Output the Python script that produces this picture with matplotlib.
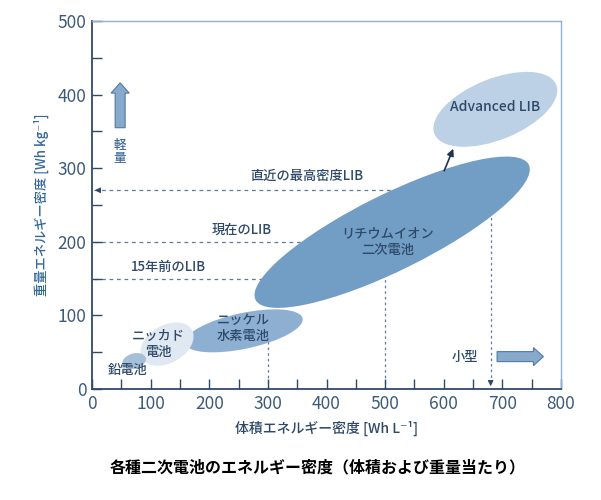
import numpy as np
import matplotlib
matplotlib.use('Agg')
import matplotlib.pyplot as plt
from matplotlib.patches import Ellipse
from matplotlib.transforms import Affine2D

plt.rcParams['font.family'] = ['Noto Sans CJK JP', 'DejaVu Sans']

# 電池ごとの領域 (中心 x [Wh/L], 中心 y [Wh/kg], 幅, 高さ, 角度)
names = ['リチウムイオン\n二次電池', 'ニッケル\n水素電池', 'ニッカド\n電池', '鉛電池', 'Advanced LIB']
cx = [512, 259, 128, 72, 688]
cy = [213, 79, 61, 38, 380]
ew = [520, 205, 98, 41, 224]
eh = [130, 61, 64, 26, 104]
ang = [26.3, 12, 30, 15, 22]
fills = ['#729ec6', '#8db0d2', '#e0e8f1', '#a5bfd9', '#bcd1e5']

# ラベル位置
lab_x = [504, 258, 113, 60, 688]
lab_y = [200, 83, 61, 26, 383]

# 基準線
h_lines_y = [270, 200, 150]
h_lines_x1 = [540, 380, 300]
h_texts = ['直近の最高密度LIB', '現在のLIB', '15年前のLIB']
h_text_x = [367, 256, 131]
h_text_y = [289, 216, 166]
v_lines_x = [300, 500]
v_lines_y1 = [80, 200]

navy = '#2f4a68'
txt = '#2d4868'

fig = plt.figure(figsize=(6.01, 5.0), dpi=100)
ax = fig.add_axes([92/601, 1-389/500, 469/601, 368/500])
ax.set_xlim(0, 800)
ax.set_ylim(0, 500)

# 画面上の角度を保つための補正
r = (ax.bbox.height/500) / (ax.bbox.width/800)
tr = Affine2D().scale(1, 1/r) + ax.transData

# 破線
for y, x1 in zip(h_lines_y, h_lines_x1):
    ax.plot([4, x1], [y, y], ls=(0, (3, 3)), color='#5d7b9c', lw=0.9, zorder=1)
for x, y1 in zip(v_lines_x, v_lines_y1):
    ax.plot([x, x], [0, y1], ls=(0, (2, 2.5)), color='#5d7b9c', lw=0.9, zorder=1)
ax.plot([680, 680], [8, 260], ls=(0, (2, 2.5)), color='#5d7b9c', lw=0.9, zorder=1)
ax.annotate('', xy=(0, 270), xytext=(14, 270),
            arrowprops=dict(arrowstyle='-|>', color=navy, lw=0.8, mutation_scale=8), zorder=2)
ax.annotate('', xy=(680, 0), xytext=(680, 12),
            arrowprops=dict(arrowstyle='-|>', color=navy, lw=0.8, mutation_scale=8), zorder=2)

for i in range(len(names)):
    e = Ellipse((cx[i], cy[i]*r), ew[i], eh[i], angle=ang[i], transform=tr,
                facecolor=fills[i], edgecolor='none', zorder=3)
    ax.add_patch(e)

for i in range(len(names)):
    fs = 10 if names[i] == 'Advanced LIB' else 9.5
    ax.text(lab_x[i], lab_y[i], names[i], ha='center', va='center', fontsize=fs,
            color=txt, linespacing=1.25, fontweight='medium', zorder=5)

for t, x, y in zip(h_texts, h_text_x, h_text_y):
    ax.text(x, y, t, ha='center', va='center', fontsize=9.5, color=txt,
            fontweight='medium', zorder=5)

# リチウムイオン -> Advanced
ax.annotate('', xy=(618, 330), xytext=(599, 293),
            arrowprops=dict(arrowstyle='-|>', color='#1e3550', lw=1.2, mutation_scale=10), zorder=6)

# 大きな矢印
ax.arrow(48, 355, 0, 61, width=17, head_width=31, head_length=14,
         length_includes_head=True, facecolor='#86a9cc', edgecolor='#55799f', lw=0.8, zorder=4)
ax.text(48, 322, '軽\n量', ha='center', va='center', fontsize=9, color='#3d6a98',
        linespacing=1.0, fontweight='medium', zorder=5)
ax.arrow(691, 44, 79, 0, width=13.6, head_width=24.5, head_length=17,
         length_includes_head=True, facecolor='#86a9cc', edgecolor='#55799f', lw=0.8, zorder=4)
ax.text(636, 44, '小型', ha='center', va='center', fontsize=9.5, color=txt,
        fontweight='medium', zorder=5)

# 軸
ax.set_xticks(np.arange(0, 801, 100))
ax.set_yticks(np.arange(0, 501, 100))
ax.set_xticks(np.arange(50, 801, 100), minor=True)
ax.set_yticks(np.arange(50, 501, 100), minor=True)
ax.tick_params(which='both', direction='in', length=7, width=1.0, color=navy,
               labelsize=12.5, labelcolor='#3d5a7a')
ax.tick_params(axis='x', which='major', pad=4)
ax.tick_params(axis='y', which='major', pad=4)
for s in ['left', 'bottom']:
    ax.spines[s].set_color(navy)
    ax.spines[s].set_linewidth(1.3)
for s in ['top', 'right']:
    ax.spines[s].set_color('#8fb1d1')
    ax.spines[s].set_linewidth(1.0)

ax.set_xlabel('体積エネルギー密度 [Wh L⁻¹]', fontsize=10, color=txt, labelpad=6,
              fontweight='medium')
ax.set_ylabel('重量エネルギー密度 [Wh kg⁻¹]', fontsize=9.5, color='#35689a', labelpad=6,
              fontweight='medium')

fig.text(318/601, 1-467/500, '各種二次電池のエネルギー密度（体積および重量当たり）',
         ha='center', va='center', fontsize=11.5, fontweight='bold', color='black')

fig.savefig('out.png', dpi=100)
